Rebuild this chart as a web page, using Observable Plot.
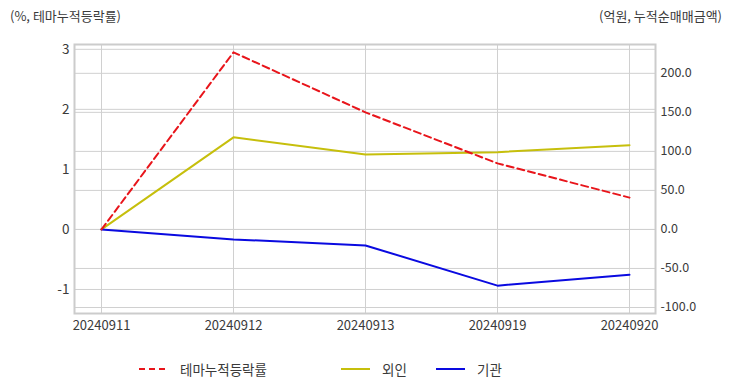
<!DOCTYPE html>
<html>
<head>
<meta charset="utf-8">
<script src="https://cdn.jsdelivr.net/npm/d3@7"></script>
<script src="https://cdn.jsdelivr.net/npm/@observablehq/plot@0.6"></script>
<style>
  body { margin: 0; background: #fff; font-family: "Noto Sans CJK KR", "Noto Sans", sans-serif; color: #3a3a3a; }
  #wrap { width: 732px; position: relative; }
  #titles { height: 30px; position: relative; font-size: 13px; }
  #titles .l { position: absolute; left: 10px; top: 6px; line-height: 20px; }
  #titles .r { position: absolute; right: 10px; top: 6px; line-height: 20px; }
  #legend { position: relative; height: 20px; margin-top: 19px; font-size: 13.5px; }
  #legend .item { position: absolute; top: 0; height: 20px; display: flex; align-items: center; }
  #legend svg { margin-right: 12px; }
</style>
</head>
<body>
<div id="wrap">
  <div id="titles"><span class="l">(%, 테마누적등락률)</span><span class="r">(억원, 누적순매매금액)</span></div>
  <div id="chart"></div>
  <div id="legend"></div>
</div>
<script>
const dates = ["20240911", "20240912", "20240913", "20240919", "20240920"];
const themeRate = [0, 2.95, 1.95, 1.1, 0.53];       // % (left axis)
const foreign = [0, 118, 96, 99, 108];               // 억원 (right axis)
const institution = [0, -12.8, -20.5, -72, -58];     // 억원 (right axis)
const leftTicks = [-1, 0, 1, 2, 3];
const rightTicks = [-100, -50, 0, 50, 100, 150, 200];
const seriesNames = ["테마누적등락률", "외인", "기관"];
const seriesColors = ["#e8151b", "#c6bf0c", "#0a0ae0"];

const k = 0.013; // left units per 억원
const leftDomain = [-1.4, 3.08];

const rows = [];
dates.forEach((d, i) => {
  rows.push({date: d, v: themeRate[i], s: seriesNames[0]});
  rows.push({date: d, v: foreign[i] * k, s: seriesNames[1]});
  rows.push({date: d, v: institution[i] * k, s: seriesNames[2]});
});
const hy = d => d < 0 ? "-" + Math.abs(d) : String(d);

const chart = Plot.plot({
  width: 732,
  height: 310,
  marginTop: 14,
  marginBottom: 27,
  marginLeft: 74,
  marginRight: 77,
  style: {fontFamily: "'Noto Sans CJK KR', sans-serif", fontSize: "12px", color: "#3a3a3a", background: "#fff"},
  x: {type: "point", domain: dates, padding: 0.2},
  y: {domain: leftDomain},
  marks: [
    Plot.ruleY(leftTicks, {stroke: "#d0d0d0", strokeWidth: 1}),
    Plot.ruleY(rightTicks.map(v => v * k), {stroke: "#d0d0d0", strokeWidth: 1}),
    Plot.ruleX(dates, {stroke: "#d0d0d0", strokeWidth: 1}),
    Plot.frame({stroke: "#cccccc", strokeWidth: 2}),
    Plot.axisX({anchor: "bottom", tickSize: 0, tickPadding: 7, label: null, fontSize: 13, style: {letterSpacing: "0.3px"}}),
    Plot.axisY({anchor: "left", ticks: leftTicks, tickSize: 0, tickPadding: 5, tickFormat: hy, label: null, fontSize: 13.5}),
    Plot.axisY({anchor: "right", ticks: rightTicks.map(v => v * k), tickSize: 0, tickPadding: 5,
      tickFormat: (d, i) => { const v = rightTicks[i]; return v < 0 ? "-" + Math.abs(v).toFixed(1) : v.toFixed(1); }, label: null, fontSize: 12.5}),
    Plot.line(rows.filter(r => r.s === seriesNames[1]), {x: "date", y: "v", stroke: seriesColors[1], strokeWidth: 2}),
    Plot.line(rows.filter(r => r.s === seriesNames[2]), {x: "date", y: "v", stroke: seriesColors[2], strokeWidth: 2}),
    Plot.line(rows.filter(r => r.s === seriesNames[0]), {x: "date", y: "v", stroke: seriesColors[0], strokeWidth: 2, strokeDasharray: "7,4"})
  ]
});
document.getElementById("chart").appendChild(chart);

const legendPos = [139, 341, 436];
const legend = document.getElementById("legend");
seriesNames.forEach((name, i) => {
  const item = document.createElement("div");
  item.className = "item";
  item.style.left = legendPos[i] + "px";
  const dash = i === 0 ? ' stroke-dasharray="6,4"' : '';
  item.innerHTML = `<svg width="29" height="4"><line x1="0" y1="2" x2="29" y2="2" stroke="${seriesColors[i]}" stroke-width="2"${dash}/></svg><span>${name}</span>`;
  legend.appendChild(item);
});
</script>
</body>
</html>
